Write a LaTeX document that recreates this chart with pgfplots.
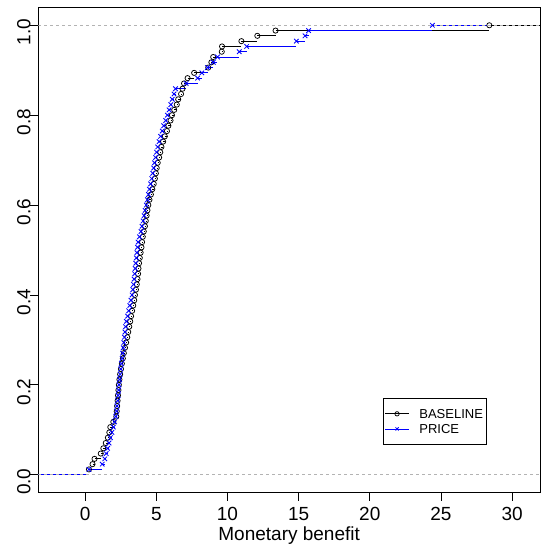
\documentclass[border=0pt]{standalone}
\usepackage{fontspec}
\setmainfont{Liberation Sans}
\usepackage{pgfplots}
\pgfplotsset{compat=1.18}
\definecolor{gray70}{RGB}{179,179,179}

\pgfplotstableread{
x y
0.27 0.0118
0.52 0.0235
0.66 0.0353
1.10 0.0471
1.28 0.0588
1.45 0.0706
1.60 0.0824
1.70 0.0941
1.77 0.1059
1.98 0.1176
2.19 0.1294
2.22 0.1412
2.25 0.1529
2.28 0.1647
2.31 0.1765
2.34 0.1882
2.37 0.2000
2.41 0.2118
2.46 0.2235
2.52 0.2353
2.58 0.2471
2.65 0.2588
2.72 0.2706
2.80 0.2824
2.88 0.2941
2.96 0.3059
3.03 0.3176
3.10 0.3294
3.17 0.3412
3.23 0.3529
3.30 0.3647
3.38 0.3765
3.45 0.3882
3.50 0.4000
3.57 0.4118
3.63 0.4235
3.68 0.4353
3.72 0.4471
3.75 0.4588
3.79 0.4706
3.84 0.4824
3.90 0.4941
3.96 0.5059
4.00 0.5176
4.05 0.5294
4.12 0.5412
4.20 0.5529
4.26 0.5647
4.32 0.5765
4.38 0.5882
4.44 0.6000
4.52 0.6118
4.62 0.6235
4.72 0.6353
4.82 0.6471
4.90 0.6588
4.97 0.6706
5.03 0.6824
5.10 0.6941
5.20 0.7059
5.28 0.7176
5.36 0.7294
5.48 0.7412
5.60 0.7529
5.75 0.7647
5.85 0.7765
6.00 0.7882
6.10 0.8000
6.26 0.8118
6.44 0.8235
6.54 0.8353
6.74 0.8471
6.84 0.8588
6.95 0.8706
7.20 0.8824
7.66 0.8941
8.65 0.9059
8.87 0.9176
9.00 0.9294
9.60 0.9412
9.62 0.9529
10.98 0.9647
12.10 0.9765
13.38 0.9882
28.40 1.0000
}\baseline

\pgfplotstableread{
x y
0.27 0.0118
1.20 0.0235
1.38 0.0353
1.48 0.0471
1.58 0.0588
1.68 0.0706
1.78 0.0824
1.88 0.0941
1.98 0.1059
2.07 0.1176
2.15 0.1294
2.20 0.1412
2.24 0.1529
2.28 0.1647
2.32 0.1765
2.35 0.1882
2.38 0.2000
2.42 0.2118
2.46 0.2235
2.50 0.2353
2.55 0.2471
2.60 0.2588
2.64 0.2706
2.68 0.2824
2.72 0.2941
2.76 0.3059
2.80 0.3176
2.84 0.3294
2.90 0.3412
2.98 0.3529
3.06 0.3647
3.14 0.3765
3.22 0.3882
3.30 0.4000
3.35 0.4118
3.40 0.4235
3.44 0.4353
3.48 0.4471
3.52 0.4588
3.56 0.4706
3.60 0.4824
3.64 0.4941
3.68 0.5059
3.72 0.5176
3.82 0.5294
3.93 0.5412
4.00 0.5529
4.08 0.5647
4.15 0.5765
4.22 0.5882
4.30 0.6000
4.38 0.6118
4.45 0.6235
4.52 0.6353
4.60 0.6471
4.68 0.6588
4.75 0.6706
4.82 0.6824
4.88 0.6941
4.95 0.7059
5.02 0.7176
5.10 0.7294
5.20 0.7412
5.30 0.7529
5.42 0.7647
5.52 0.7765
5.66 0.7882
5.78 0.8000
5.90 0.8118
6.02 0.8235
6.12 0.8353
6.25 0.8471
6.35 0.8588
7.10 0.8706
7.90 0.8824
8.20 0.8941
8.60 0.9059
9.00 0.9176
9.30 0.9294
10.83 0.9412
11.35 0.9529
14.84 0.9647
15.45 0.9765
15.70 0.9882
24.40 1.0000
}\price

\begin{document}
\begin{tikzpicture}
% page frame: 550 x 550
\path (-38.3pt,-57.3pt) rectangle (511.7pt,492.7pt);
\begin{axis}[
    at={(0,0)}, anchor=south west,
    scale only axis,
    width=501.7pt, height=485.4pt,
    xmin=-3.29, xmax=31.96,
    ymin=-0.04, ymax=1.04,
    xtick={0,5,10,15,20,25,30},
    ytick={0,0.2,0.4,0.6,0.8,1},
    xtick pos=left, ytick pos=left,
    tick align=outside,
    major tick length=8pt,
    every tick/.style={black, line width=0.7pt},
    axis line style={line width=0.7pt},
    /pgf/number format/assume math mode=true,
    ticklabel style={font=\fontsize{19}{22}\selectfont},
    xticklabel style={anchor=base, yshift=-20.3pt},
    yticklabel style={rotate=90, anchor=base, xshift=-7pt,
        /pgf/number format/.cd, fixed, fixed zerofill, precision=1},
    xlabel={Monetary benefit},
    xlabel style={at={(axis description cs:0.5,0)}, anchor=base,
        yshift=-48pt, font=\fontsize{19}{22}\selectfont},
    legend style={at={(axis description cs:0.6877,0.1945)},
        anchor=north west, draw=black, line width=0.6pt,
        font=\fontsize{13}{15}\selectfont,
        inner xsep=1.4pt, inner ysep=8.7pt, row sep=2pt,
        nodes={inner sep=2pt, text depth=0pt},
        /tikz/every odd column/.append style={column sep=8.3pt}},
    legend cell align=left,
    legend image code/.code={
        \draw[#1, sharp plot, mark=none] (0pt,0pt) -- (23.3pt,0pt);
        \draw[#1, mark size=2.2pt] plot coordinates {(11.65pt,0pt)};
    },
]
% BASELINE
\addplot[black, line width=0.75pt, forget plot] coordinates {(-4.23,0) (0.27,0)};
\addplot[black, line width=0.75pt, forget plot] coordinates {(28.40,1) (32.9,1)};
\addplot[black, line width=0.75pt, jump mark left, mark=o, mark size=2.6pt,
    mark options={line width=0.75pt}] table[x=x, y=y] {\baseline};
\addlegendentry{BASELINE}
% PRICE
\addplot[blue, line width=0.75pt, forget plot] coordinates {(-3.59,0) (0.27,0)};
\addplot[blue, line width=0.75pt, forget plot] coordinates {(24.40,1) (28.26,1)};
\addplot[blue, line width=0.75pt, jump mark left, mark=x, mark size=3.2pt,
    mark options={line width=0.85pt}] table[x=x, y=y] {\price};
\addlegendentry{PRICE}
% 0 and 1 lines
\addplot[gray70, line width=0.7pt, dash pattern=on 3pt off 3pt, forget plot]
    coordinates {(-3.29,0) (31.96,0)};
\addplot[gray70, line width=0.7pt, dash pattern=on 3pt off 3pt, forget plot]
    coordinates {(-3.29,1) (31.96,1)};
\end{axis}
\end{tikzpicture}
\end{document}
